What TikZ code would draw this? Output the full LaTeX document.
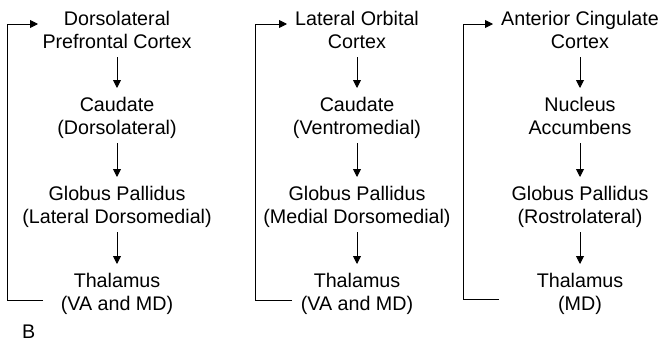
\documentclass[tikz,border=0pt]{standalone}
\usepackage{fontspec}
\setmainfont{Liberation Sans}
\usetikzlibrary{arrows.meta,calc}
\begin{document}
\begin{tikzpicture}[x=1pt,y=-1pt,
  lbl/.style={align=center,inner sep=0pt,anchor=base,font=\fontsize{19.7pt}{23pt}\selectfont},
  arr/.style={line width=0.9pt,-{Triangle[length=8pt,width=8pt]}},
  fb/.style={line width=0.9pt,-{Triangle[length=8pt,width=8pt]}}]
\useasboundingbox (0,0) rectangle (663,343);
% column 1 (anchor = baseline of last line)
\node[lbl] (a1) at (117,48) {Dorsolateral\\Prefrontal Cortex};
\node[lbl] (a2) at (117,134) {Caudate\\(Dorsolateral)};
\node[lbl] (a3) at (117,223) {Globus Pallidus\\(Lateral Dorsomedial)};
\node[lbl] (a4) at (117,310) {Thalamus\\(VA and MD)};
% column 2
\node[lbl] (b1) at (357,48) {Lateral Orbital\\Cortex};
\node[lbl] (b2) at (357,134) {Caudate\\(Ventromedial)};
\node[lbl] (b3) at (357,223) {Globus Pallidus\\(Medial Dorsomedial)};
\node[lbl] (b4) at (357,310) {Thalamus\\(VA and MD)};
% column 3
\node[lbl] (c1) at (580,48) {Anterior Cingulate\\Cortex};
\node[lbl] (c2) at (580,134) {Nucleus\\Accumbens};
\node[lbl] (c3) at (580,223) {Globus Pallidus\\(Rostrolateral)};
\node[lbl] (c4) at (580,310) {Thalamus\\(MD)};
% label
\node[lbl,anchor=base west] (B) at (22,338) {B};
% vertical arrows
\foreach \c in {a,b,c}{
  \draw[arr] ([yshift=-9pt]\c1.base) -- ([yshift=46pt]\c2.base);
  \draw[arr] ([yshift=-9pt]\c2.base) -- ([yshift=46pt]\c3.base);
  \draw[arr] ([yshift=-9pt]\c3.base) -- ([yshift=46pt]\c4.base);
}
% feedback loops
\coordinate (a4o) at (43,300); \coordinate (a4c) at (7,300);
\coordinate (a1c) at (7,24);   \coordinate (a1i) at (38,24);
\draw[fb] (a4o) -- (a4c) -- (a1c) -- (a1i);
\coordinate (b4o) at (292,300); \coordinate (b4c) at (255,300);
\coordinate (b1c) at (255,24);  \coordinate (b1i) at (287,24);
\draw[fb] (b4o) -- (b4c) -- (b1c) -- (b1i);
\coordinate (c4o) at (499,299); \coordinate (c4c) at (463,299);
\coordinate (c1c) at (463,24);  \coordinate (c1i) at (493,24);
\draw[fb] (c4o) -- (c4c) -- (c1c) -- (c1i);
\end{tikzpicture}
\end{document}
